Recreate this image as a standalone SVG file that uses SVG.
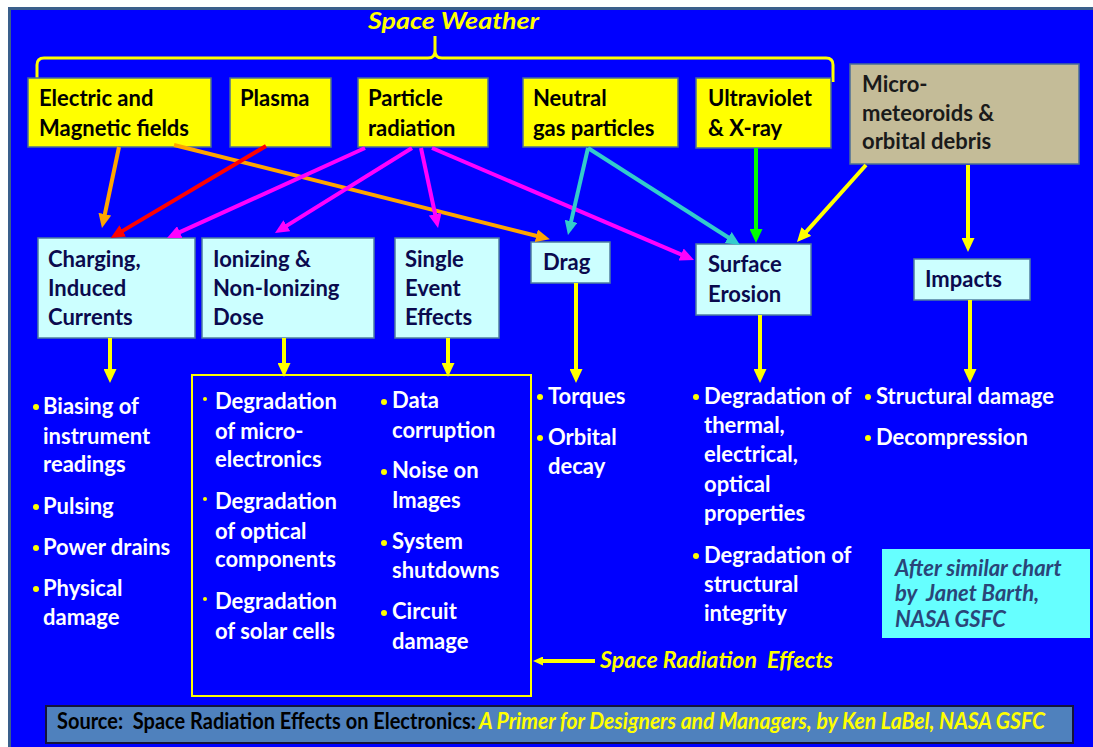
<svg xmlns="http://www.w3.org/2000/svg" width="1093" height="747" viewBox="0 0 1093 747">
<style>
.t{font-family:Lato,"Open Sans","Liberation Sans",sans-serif;font-weight:700;font-size:22px}
.it{font-style:italic}
.k{fill:#000}
.nv{fill:#0A0A4E}
.w{fill:#fff}
.yl{fill:#FFFF00}
.by{fill:#FFFF00;stroke:#4A6E96;stroke-width:1.5}
.bc{fill:#CCFFFF;stroke:#4F7EA0;stroke-width:1.5}
.dot{fill:#FFFF00}
.ln{fill:none;stroke-width:4}
</style>
<defs>
<marker id="aO" markerUnits="userSpaceOnUse" markerWidth="14" markerHeight="13" refX="9" refY="6.5" orient="auto"><path d="M0,0 L14,6.5 L0,13 z" fill="#FFA500"/></marker>
<marker id="aR" markerUnits="userSpaceOnUse" markerWidth="14" markerHeight="13" refX="9" refY="6.5" orient="auto"><path d="M0,0 L14,6.5 L0,13 z" fill="#FF0000"/></marker>
<marker id="aM" markerUnits="userSpaceOnUse" markerWidth="14" markerHeight="13" refX="9" refY="6.5" orient="auto"><path d="M0,0 L14,6.5 L0,13 z" fill="#FF00FF"/></marker>
<marker id="aT" markerUnits="userSpaceOnUse" markerWidth="14" markerHeight="13" refX="9" refY="6.5" orient="auto"><path d="M0,0 L14,6.5 L0,13 z" fill="#33CCCC"/></marker>
<marker id="aG" markerUnits="userSpaceOnUse" markerWidth="14" markerHeight="13" refX="9" refY="6.5" orient="auto"><path d="M0,0 L14,6.5 L0,13 z" fill="#00FF00"/></marker>
<marker id="aY" markerUnits="userSpaceOnUse" markerWidth="14" markerHeight="13" refX="9" refY="6.5" orient="auto"><path d="M0,0 L14,6.5 L0,13 z" fill="#FFFF00"/></marker>
<marker id="aYs" markerUnits="userSpaceOnUse" markerWidth="10" markerHeight="9" refX="5" refY="4.5" orient="auto"><path d="M0,0 L10,4.5 L0,9 z" fill="#FFFF00"/></marker>
</defs>

<rect x="0" y="0" width="1093" height="747" fill="#fff"/>
<rect x="8" y="7" width="1090" height="745" fill="#3A5F8B"/>
<rect x="11" y="10" width="1085" height="740" fill="#0000FF"/>

<g id="space-weather">
<text class="t it yl" x="368" y="29" font-size="28" textLength="171" lengthAdjust="spacingAndGlyphs">Space Weather</text>
<path d="M37,78 L37,65 Q37,58 44,58 L428,58 Q435,58 435,51 L435,36 L435,51 Q435,58 442,58 L826,58 Q833,58 833,65 L833,82" fill="none" stroke="#FFFF00" stroke-width="3"/>
</g>

<g id="electric">
<rect class="by" x="28" y="78" width="183" height="69"/>
<text class="t k" x="39" y="106">Electric and</text>
<text class="t k" x="39" y="136">Magnetic fields</text>
</g>
<g id="plasma">
<rect class="by" x="230" y="78" width="101" height="69"/>
<text class="t k" x="240" y="106">Plasma</text>
</g>
<g id="particle">
<rect class="by" x="358" y="78" width="130" height="69"/>
<text class="t k" x="368" y="106">Particle</text>
<text class="t k" x="368" y="136">radiation</text>
</g>
<g id="neutral">
<rect class="by" x="523" y="78" width="155" height="69"/>
<text class="t k" x="533" y="106">Neutral</text>
<text class="t k" x="533" y="136">gas particles</text>
</g>
<g id="ultraviolet">
<rect class="by" x="696" y="78" width="135" height="70"/>
<text class="t k" x="708" y="106">Ultraviolet</text>
<text class="t k" x="708" y="136">&amp; X-ray</text>
</g>
<g id="micro">
<rect x="850" y="64" width="229" height="100" fill="#C4BC98" stroke="#4A6E96" stroke-width="1.5"/>
<text class="t" x="862" y="92" fill="#1A1A1A">Micro-</text>
<text class="t" x="862" y="121" fill="#1A1A1A">meteoroids &amp;</text>
<text class="t" x="862" y="149" fill="#1A1A1A">orbital debris</text>
</g>

<g id="charging">
<rect class="bc" x="38" y="238" width="157" height="100"/>
<text class="t nv" x="48" y="267">Charging,</text>
<text class="t nv" x="48" y="296">Induced</text>
<text class="t nv" x="48" y="325">Currents</text>
</g>
<g id="ionizing">
<rect class="bc" x="202" y="238" width="172" height="100"/>
<text class="t nv" x="213" y="267">Ionizing &amp;</text>
<text class="t nv" x="213" y="296">Non-Ionizing</text>
<text class="t nv" x="213" y="325">Dose</text>
</g>
<g id="single">
<rect class="bc" x="395" y="238" width="104" height="100"/>
<text class="t nv" x="405" y="267">Single</text>
<text class="t nv" x="405" y="296">Event</text>
<text class="t nv" x="405" y="325">Effects</text>
</g>
<g id="drag">
<rect class="bc" x="531" y="242" width="79" height="41"/>
<text class="t nv" x="543" y="270">Drag</text>
</g>
<g id="surface">
<rect class="bc" x="696" y="244" width="115" height="71"/>
<text class="t nv" x="708" y="272">Surface</text>
<text class="t nv" x="708" y="302">Erosion</text>
</g>
<g id="impacts">
<rect class="bc" x="914" y="259" width="116" height="41"/>
<text class="t nv" x="925" y="287">Impacts</text>
</g>

<g id="connectors">
<line class="ln" stroke="#FFA500" x1="119" y1="147" x2="103" y2="223" marker-end="url(#aO)"/>
<line class="ln" stroke="#FFA500" x1="174" y1="145" x2="545" y2="238" marker-end="url(#aO)"/>
<line class="ln" stroke="#FF0000" stroke-width="5" x1="266" y1="146" x2="115" y2="235.4" marker-end="url(#aR)"/>
<line class="ln" stroke="#FF00FF" x1="365" y1="148" x2="171.6" y2="235.9" marker-end="url(#aM)"/>
<line class="ln" stroke="#FF00FF" x1="412" y1="148" x2="279.2" y2="230.4" marker-end="url(#aM)"/>
<line class="ln" stroke="#FF00FF" x1="421" y1="148" x2="437" y2="223" marker-end="url(#aM)"/>
<line class="ln" stroke="#FF00FF" x1="432" y1="148" x2="689.4" y2="258" marker-end="url(#aM)"/>
<line class="ln" stroke="#33CCCC" x1="588" y1="148" x2="569.1" y2="230.1" marker-end="url(#aT)"/>
<line class="ln" stroke="#33CCCC" x1="588" y1="148" x2="735.8" y2="242.3" marker-end="url(#aT)"/>
<line class="ln" stroke="#00FF00" x1="756" y1="148" x2="756" y2="238" marker-end="url(#aG)"/>
<line class="ln" stroke="#FFFF00" x1="866" y1="165" x2="800.3" y2="238.3" marker-end="url(#aY)"/>
<line class="ln" stroke="#FFFF00" x1="968" y1="165" x2="968" y2="247" marker-end="url(#aY)"/>
<line class="ln" stroke="#FFFF00" x1="110" y1="338" x2="110" y2="378" marker-end="url(#aY)"/>
<line class="ln" stroke="#FFFF00" x1="284" y1="338" x2="284" y2="372" marker-end="url(#aY)"/>
<line class="ln" stroke="#FFFF00" x1="448" y1="338" x2="448" y2="372" marker-end="url(#aY)"/>
<line class="ln" stroke="#FFFF00" x1="576" y1="283" x2="576" y2="378" marker-end="url(#aY)"/>
<line class="ln" stroke="#FFFF00" x1="760" y1="315" x2="760" y2="378" marker-end="url(#aY)"/>
<line class="ln" stroke="#FFFF00" x1="970" y1="300" x2="970" y2="378" marker-end="url(#aY)"/>
<line class="ln" stroke="#FFFF00" stroke-width="2.5" x1="595" y1="661" x2="538" y2="661" marker-end="url(#aYs)"/>
</g>

<g id="charging-effects">
<circle class="dot" cx="36" cy="407" r="3"/>
<text class="t w" x="43" y="414">Biasing of</text>
<text class="t w" x="43" y="444">instrument</text>
<text class="t w" x="43" y="472">readings</text>
<circle class="dot" cx="36" cy="507" r="3"/>
<text class="t w" x="43" y="514">Pulsing</text>
<circle class="dot" cx="36" cy="548" r="3"/>
<text class="t w" x="43" y="555">Power drains</text>
<circle class="dot" cx="36" cy="589" r="3"/>
<text class="t w" x="43" y="596">Physical</text>
<text class="t w" x="43" y="625">damage</text>
</g>

<g id="space-radiation-effects">
<rect x="192" y="375" width="339" height="321" fill="none" stroke="#FFFF00" stroke-width="2"/>
<circle class="dot" cx="205" cy="399" r="2"/>
<text class="t w" x="215" y="409">Degradation</text>
<text class="t w" x="215" y="439">of micro-</text>
<text class="t w" x="215" y="467">electronics</text>
<circle class="dot" cx="205" cy="499" r="2"/>
<text class="t w" x="215" y="509">Degradation</text>
<text class="t w" x="215" y="539">of optical</text>
<text class="t w" x="215" y="567">components</text>
<circle class="dot" cx="205" cy="599" r="2"/>
<text class="t w" x="215" y="609">Degradation</text>
<text class="t w" x="215" y="639">of solar cells</text>
<circle class="dot" cx="384" cy="402" r="3"/>
<text class="t w" x="392" y="408">Data</text>
<text class="t w" x="392" y="438">corruption</text>
<circle class="dot" cx="384" cy="472" r="3"/>
<text class="t w" x="392" y="478">Noise on</text>
<text class="t w" x="392" y="508">Images</text>
<circle class="dot" cx="384" cy="543" r="3"/>
<text class="t w" x="392" y="549">System</text>
<text class="t w" x="392" y="578">shutdowns</text>
<circle class="dot" cx="384" cy="613" r="3"/>
<text class="t w" x="392" y="619">Circuit</text>
<text class="t w" x="392" y="649">damage</text>
<text class="t it yl" x="600" y="668" font-size="22" xml:space="preserve" textLength="233" lengthAdjust="spacingAndGlyphs">Space Radiation  Effects</text>
</g>

<g id="drag-effects">
<circle class="dot" cx="540" cy="397" r="3"/>
<text class="t w" x="548" y="404">Torques</text>
<circle class="dot" cx="540" cy="438" r="3"/>
<text class="t w" x="548" y="445">Orbital</text>
<text class="t w" x="548" y="474">decay</text>
</g>

<g id="surface-effects">
<circle class="dot" cx="696" cy="397" r="3"/>
<text class="t w" x="704" y="404">Degradation of</text>
<text class="t w" x="704" y="433">thermal,</text>
<text class="t w" x="704" y="462">electrical,</text>
<text class="t w" x="704" y="492">optical</text>
<text class="t w" x="704" y="521">properties</text>
<circle class="dot" cx="696" cy="556" r="3"/>
<text class="t w" x="704" y="563">Degradation of</text>
<text class="t w" x="704" y="592">structural</text>
<text class="t w" x="704" y="621">integrity</text>
</g>

<g id="impacts-effects">
<circle class="dot" cx="868" cy="397" r="3"/>
<text class="t w" x="876" y="404">Structural damage</text>
<circle class="dot" cx="868" cy="438" r="3"/>
<text class="t w" x="876" y="445">Decompression</text>
</g>

<g id="note">
<rect x="882" y="549" width="208" height="89" fill="#66FFFF"/>
<text class="t it" x="895" y="576" font-size="18" fill="#2A4578">After similar chart</text>
<text class="t it" x="895" y="601" font-size="18" fill="#2A4578" xml:space="preserve">by  Janet Barth,</text>
<text class="t it" x="895" y="627" font-size="18" fill="#2A4578">NASA GSFC</text>
</g>

<g id="source">
<rect x="46" y="706" width="1027" height="37" fill="#4F81BD" stroke="#14143A" stroke-width="2"/>
<text class="t k" x="57" y="729" font-size="19" textLength="419" lengthAdjust="spacingAndGlyphs" xml:space="preserve">Source:  Space Radiation Effects on Electronics:</text>
<text class="t it yl" x="479" y="729" font-size="19" textLength="566" lengthAdjust="spacingAndGlyphs">A Primer for Designers and Managers, by Ken LaBel, NASA GSFC</text>
</g>
</svg>
